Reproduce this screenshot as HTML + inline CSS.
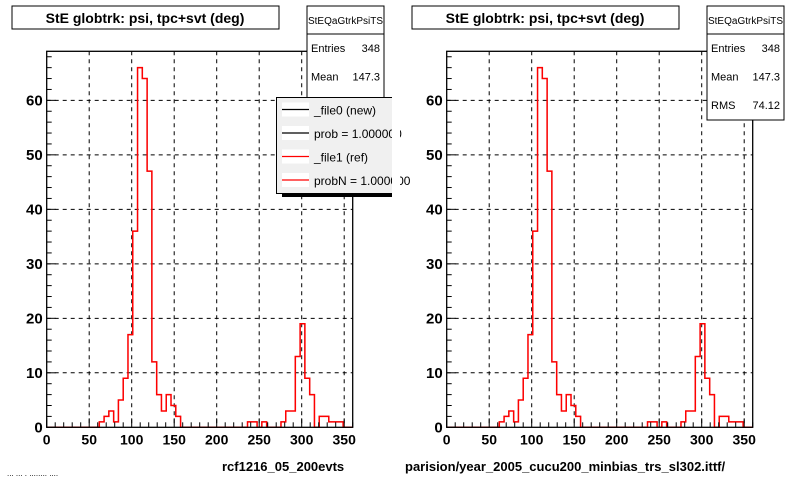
<!DOCTYPE html>
<html><head><meta charset="utf-8"><style>
html,body{margin:0;padding:0;background:#fff;}
svg{display:block;}
text{font-family:"Liberation Sans",sans-serif;}
</style></head><body>
<svg id="c" width="800" height="480" viewBox="0 0 800 480" xmlns="http://www.w3.org/2000/svg"></svg>
<script>
// 64 bins over 0..360 deg (bin width 5.625)
const binCount = [64];
const xRange = [0, 360];
const yRange = [0, 69];
const counts = [0,0,0,0,0,0,0,0,0,0,0,1,2,3,1,5,9,17,36,66,64,47,12,6,3,6,4,2,0,0,0,0,0,0,0,0,0,0,0,0,0,0,1,1,0,1,0,0,0,1,3,3,13,19,9,6,0,2,2,1,1,1,0,0];
const xTicks = [0,50,100,150,200,250,300,350];
const yTicks = [0,10,20,30,40,50,60];
const statsLabels = ["Entries","Mean","RMS"];
const statsValues = ["348","147.3","74.12"];
const xLabels = ["rcf1216_05_200evts","parision/year_2005_cucu200_minbias_trs_sl302.ittf/"];

const NS="http://www.w3.org/2000/svg";
const svg=document.getElementById('c');
function el(tag,attrs,parent){const e=document.createElementNS(NS,tag);for(const k in attrs)e.setAttribute(k,attrs[k]);(parent||svg).appendChild(e);return e;}

function panel(ox, idx){
  const g=el('g',{});
  
  
  const L=46.7+ox, R=352.7+ox, T=51.3, B=427.3;
  const xs=v=>L+(v-xRange[0])/(xRange[1]-xRange[0])*(R-L);
  const ys=v=>B-(v-yRange[0])/(yRange[1]-yRange[0])*(B-T);
  // grid
  xTicks.forEach(t=>{ if(t>0){const l=el('line',{x1:xs(t),x2:xs(t),y1:T,y2:B,stroke:'#000','stroke-width':1,'stroke-dasharray':'4,4'},g);
    
    }});
  yTicks.forEach(t=>{ if(t>0){const l=el('line',{x1:L,x2:R,y1:ys(t),y2:ys(t),stroke:'#000','stroke-width':1,'stroke-dasharray':'4,4'},g);
    
    }});
  // histograms
  const bw=(xRange[1]-xRange[0])/binCount[0];
  let d='M'+xs(0)+','+ys(0);
  counts.forEach((c,i)=>{d+=' L'+xs(i*bw)+','+ys(c)+' L'+xs((i+1)*bw)+','+ys(c);});
  d+=' L'+xs(xRange[1])+','+ys(0);
  const hb=el('path',{d:d,fill:'none',stroke:'#000','stroke-width':1},g);
  
  
  const hr=el('path',{d:d,fill:'none',stroke:'#f00','stroke-width':1.5},g);
  
  
  // frame
  const fr=el('rect',{x:L,y:T,width:R-L,height:B-T,fill:'none',stroke:'#000','stroke-width':1.3},g);
  
  
  // x ticks
  for(let v=0;v<=360;v+=10){const big=v%50===0;el('line',{x1:xs(v),x2:xs(v),y1:B,y2:B-(big?9:5),stroke:'#000'},g);}
  xTicks.forEach(t=>{const tx=el('text',{x:xs(t),y:B+17,'text-anchor':'middle','font-size':14,'font-weight':'bold'},g);tx.textContent=t;
    
    });
  // y ticks
  for(let v=0;v<=68;v+=2){const big=v%10===0;el('line',{x1:L,x2:L+(big?9:5),y1:ys(v),y2:ys(v),stroke:'#000'},g);}
  yTicks.forEach(t=>{const tx=el('text',{x:L-4,y:ys(t)+5,'text-anchor':'end','font-size':15,'font-weight':'bold','font-family':'Liberation Serif, serif'},g);tx.textContent=t;
    
    });
  // title
  const tb=el('rect',{x:ox+12,y:6,width:267,height:23,fill:'#fff',stroke:'#000'},g);
  
  
  const tt=el('text',{x:ox+145,y:23,'text-anchor':'middle','font-size':14,'font-weight':'bold'},g);
  tt.textContent='StE globtrk: psi, tpc+svt (deg)';
  
  
  // stats box
  const sb=el('rect',{x:ox+307,y:6,width:77,height:114,fill:'#fff',stroke:'#000'},g);
  
  
  el('line',{x1:ox+307,x2:ox+384,y1:34,y2:34,stroke:'#000'},g);
  const sh=el('text',{x:ox+345.5,y:24,'text-anchor':'middle','font-size':10},g);sh.textContent='StEQaGtrkPsiTS';
  
  
  statsLabels.forEach((s,i)=>{const y=52+i*28.5;
    const a=el('text',{x:ox+311,y:y,'font-size':11},g);a.textContent=s;
    
    
    const b=el('text',{x:ox+380,y:y,'text-anchor':'end','font-size':11},g);b.textContent=statsValues[i];
    
    });
  // x label
  const xl=el('text',{x:idx===0?222:405,y:471,'font-size':13,'font-weight':'bold'},g);
  xl.textContent=xLabels[idx];
  
  
}
panel(0,0);
panel(400,1);
// cover left panel beyond x=392
const cov=el('rect',{x:392,y:0,width:8,height:440,fill:'#fff'});


// legend on left panel
const lg=el('g',{});


el('rect',{x:282,y:193,width:110,height:4,fill:'#000'},lg);
el('rect',{x:276.5,y:97.5,width:118,height:96,fill:'#f0f0f0',stroke:'#000'},lg);
const legTexts=['_file0 (new)','prob = 1.000000','_file1 (ref)','probN = 1.000000'];
const legColors=['#000','#000','#f00','#f00'];
legTexts.forEach((t,i)=>{const y=109.5+i*23.5;
  el('rect',{x:282,y:y-7,width:27,height:14,fill:'#fff'},lg);
  const ln=el('line',{x1:282,x2:309,y1:y,y2:y,stroke:legColors[i],'stroke-width':1.3},lg);
  
  
  const tx=el('text',{x:314,y:y+5,'font-size':12},lg);tx.textContent=t;
  
  });
el('rect',{x:392,y:90,width:8,height:110,fill:'#fff'},lg);
// faint footer text
const ft=el('text',{x:7,y:476,'font-size':8,fill:'#000'});
ft.textContent='... ... . ........ ....';


</script>
</body></html>
